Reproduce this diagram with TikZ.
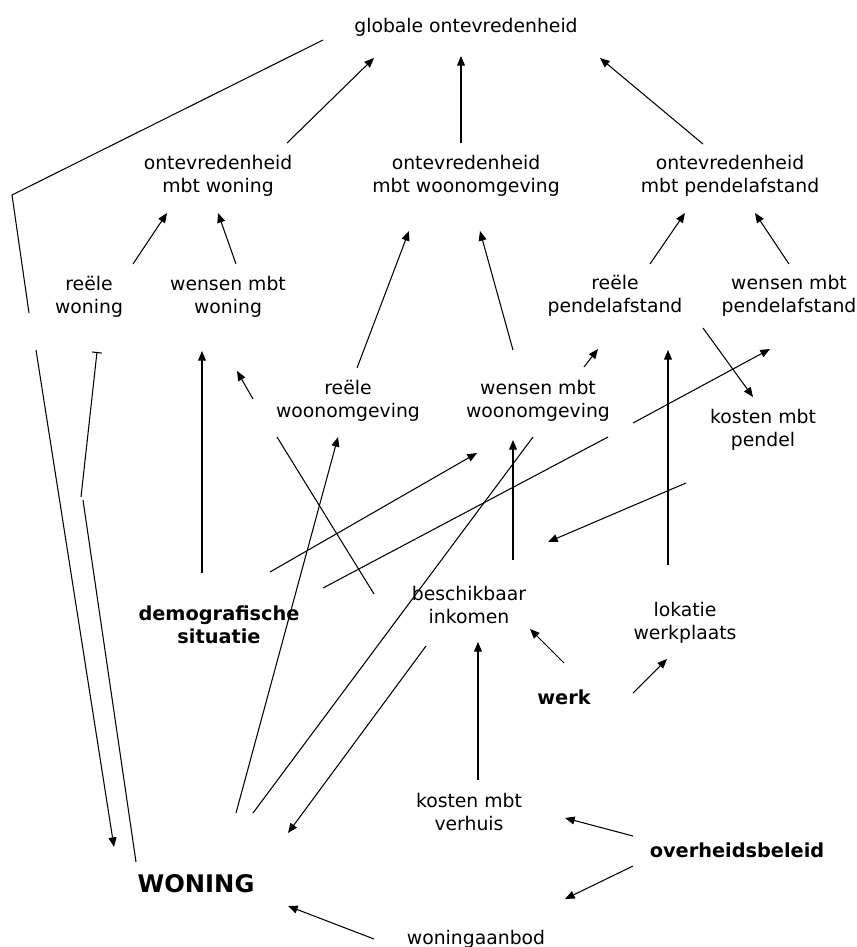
\documentclass[tikz,border=0pt]{standalone}
\usepackage{fontspec}
\setmainfont{DejaVu Sans}
\usetikzlibrary{arrows.meta}

\begin{document}
\begin{tikzpicture}[x=0.02cm, y=-0.02cm,
  txt/.style={align=center, font=\fontsize{10.7}{13}\selectfont},
  vet/.style={align=center, font=\fontsize{11}{13}\selectfont\bfseries},
  pijl/.style={-{Triangle[length=5.5pt,width=4.5pt]}, line width=0.6pt},
  lijn/.style={line width=0.6pt}]
\useasboundingbox (0,0) rectangle (857,947);

% ontevredenheid
\node[txt] (glob) at (466,27) {globale ontevredenheid};
\node[txt] (ontwon) at (218,176) {ontevredenheid\\mbt woning};
\node[txt] (ontomg) at (466,176) {ontevredenheid\\mbt woonomgeving};
\node[txt] (ontpen) at (730,176) {ontevredenheid\\mbt pendelafstand};

% reeel en wensen
\node[txt] (reelwon) at (89,297) {reële\\woning};
\node[txt] (wenswon) at (228,297) {wensen mbt\\woning};
\node[txt] (reelpen) at (615,296) {reële\\pendelafstand};
\node[txt] (wenspen) at (789,296) {wensen mbt\\pendelafstand};
\node[txt] (reelomg) at (348,401) {reële\\woonomgeving};
\node[txt] (wensomg) at (538,401) {wensen mbt\\woonomgeving};
\node[txt] (kostpen) at (763,430) {kosten mbt\\pendel};

% onderste laag
\node[vet] (demo) at (219,625) {demografische\\situatie};
\node[txt] (inkomen) at (469,605) {beschikbaar\\inkomen};
\node[txt] (lokatie) at (685,623) {lokatie\\werkplaats};
\node[vet] (werk) at (564,697) {werk};
\node[txt] (kostverh) at (469,812) {kosten mbt\\verhuis};
\node[vet] (beleid) at (737,850) {overheidsbeleid};
\node[font=\fontsize{13.8}{16}\selectfont\bfseries] (woning) at (196,884) {WONING};
\node[txt] (aanbod) at (476,939) {woningaanbod};

% knikpunten
\coordinate (k1) at (12,195);
\coordinate (k2) at (29,313);
\coordinate (k3) at (36,350);
\coordinate (k4) at (83,500);
\coordinate (k5) at (81,497);
\coordinate (k6) at (277,437);
\coordinate (k7) at (253,399);
\coordinate (k8) at (608,437);
\coordinate (k9) at (633,423);

% naar globale ontevredenheid
\draw[pijl] ([shift={(69,-33)}]ontwon.center) -- ([shift={(-92,31)}]glob.center);
\draw[pijl] ([shift={(-5,-33)}]ontomg.center) -- ([shift={(-5,29)}]glob.center);
\draw[pijl] ([shift={(-27,-32)}]ontpen.center) -- ([shift={(134,31)}]glob.center);

% terugkoppeling via links
\draw[lijn] ([shift={(-143,13)}]glob.center) -- (k1) -- (k2);
\draw[pijl] (k3) -- ([shift={(-82,-37)}]woning.center);
\draw[lijn] ([shift={(-60,-22)}]woning.center) -- (k4);
\draw[-{Bar[width=5.5pt]}, line width=0.6pt] (k5) -- ([shift={(8,55)}]reelwon.center);

% naar ontevredenheid
\draw[pijl] ([shift={(44,-33)}]reelwon.center) -- ([shift={(-51,37)}]ontwon.center);
\draw[pijl] ([shift={(8,-33)}]wenswon.center) -- ([shift={(0,37)}]ontwon.center);
\draw[pijl] ([shift={(9,-33)}]reelomg.center) -- ([shift={(-57,55)}]ontomg.center);
\draw[pijl] ([shift={(-25,-51)}]wensomg.center) -- ([shift={(14,55)}]ontomg.center);
\draw[pijl] ([shift={(35,-32)}]reelpen.center) -- ([shift={(-45,37)}]ontpen.center);
\draw[pijl] ([shift={(0,-32)}]wenspen.center) -- ([shift={(25,37)}]ontpen.center);

% pendel
\draw[pijl] ([shift={(46,-34)}]wensomg.center) -- ([shift={(-17,53)}]reelpen.center);
\draw[pijl] ([shift={(88,32)}]reelpen.center) -- ([shift={(-10,-33)}]kostpen.center);
\draw[pijl] ([shift={(-77,53)}]kostpen.center) -- ([shift={(79,-63)}]inkomen.center);
\draw[pijl] ([shift={(-17,-58)}]lokatie.center) -- ([shift={(53,54)}]reelpen.center);

% demografische situatie
\draw[pijl] ([shift={(-17,-52)}]demo.center) -- ([shift={(-26,54)}]wenswon.center);
\draw[pijl] ([shift={(51,-53)}]demo.center) -- ([shift={(-61,52)}]wensomg.center);
\draw[lijn] ([shift={(104,-37)}]demo.center) -- (k8);
\draw[pijl] (k9) -- ([shift={(-19,53)}]wenspen.center);

% beschikbaar inkomen
\draw[lijn] ([shift={(-95,-11)}]inkomen.center) -- (k6);
\draw[pijl] (k7) -- ([shift={(9,74)}]wenswon.center);
\draw[pijl] ([shift={(44,-45)}]inkomen.center) -- ([shift={(-25,39)}]wensomg.center);
\draw[pijl] ([shift={(-43,41)}]inkomen.center) -- ([shift={(92,-51)}]woning.center);

% woning
\draw[pijl] ([shift={(40,-71)}]woning.center) -- ([shift={(-10,36)}]reelomg.center);
\draw[lijn] ([shift={(57,-71)}]woning.center) -- ([shift={(-5,36)}]wensomg.center);

% werk, verhuis en beleid
\draw[pijl] ([shift={(0,-34)}]werk.center) -- ([shift={(61,24)}]inkomen.center);
\draw[pijl] ([shift={(69,-4)}]werk.center) -- ([shift={(-18,36)}]lokatie.center);
\draw[pijl] ([shift={(9,-32)}]kostverh.center) -- ([shift={(9,37)}]inkomen.center);
\draw[pijl] ([shift={(-104,-14)}]beleid.center) -- ([shift={(96,6)}]kostverh.center);
\draw[pijl] ([shift={(-104,16)}]beleid.center) -- ([shift={(89,-40)}]aanbod.center);
\draw[pijl] ([shift={(-102,0)}]aanbod.center) -- ([shift={(92,22)}]woning.center);

\end{tikzpicture}
\end{document}
